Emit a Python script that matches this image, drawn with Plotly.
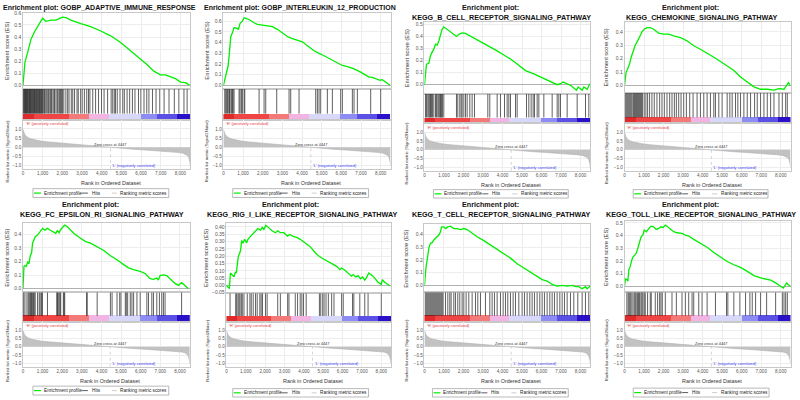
import plotly.graph_objects as go

# ---------------- data ----------------
N_RANKS = 8500
ZERO_CROSS = 4447
rank_ticks = [0, 1000, 2000, 3000, 4000, 5000, 6000, 7000, 8000]

gene_sets = [
    "GOBP_ADAPTIVE_IMMUNE_RESPONSE",
    "GOBP_INTERLEUKIN_12_PRODUCTION",
    "KEGG_B_CELL_RECEPTOR_SIGNALING_PATHWAY",
    "KEGG_CHEMOKINE_SIGNALING_PATHWAY",
    "KEGG_FC_EPSILON_RI_SIGNALING_PATHWAY",
    "KEGG_RIG_I_LIKE_RECEPTOR_SIGNALING_PATHWAY",
    "KEGG_T_CELL_RECEPTOR_SIGNALING_PATHWAY",
    "KEGG_TOLL_LIKE_RECEPTOR_SIGNALING_PATHWAY",
]

metric_rank = [0, 30, 80, 150, 250, 400, 600, 900, 1300, 1800, 2400, 3000, 3600, 4100, 4447,
               5000, 5600, 6200, 6800, 7300, 7800, 8100, 8250, 8350, 8420, 8460, 8490, 8500]
metric_val = [0.97, 0.85, 0.72, 0.62, 0.53, 0.46, 0.40, 0.34, 0.29, 0.24, 0.19, 0.14, 0.09, 0.04, 0.0,
              -0.06, -0.11, -0.15, -0.19, -0.23, -0.28, -0.32, -0.37, -0.44, -0.55, -0.68, -0.85, -1.02]

cb_edges = [0, 574, 2346, 3359, 4372, 5975, 6820, 7832, 8500]

es_rank_1 = [0, 100, 236, 405, 574, 743, 911, 996, 1165, 1418, 1671, 1840, 2008, 2177, 2430, 2937, 3443,
             3949, 4456, 4962, 5468, 5975, 6312, 6650, 6987, 7240, 7494, 7747, 8000, 8253, 8473]
es_val_1 = [0.0, 0.19, 0.27, 0.38, 0.44, 0.49, 0.53, 0.555, 0.53, 0.54, 0.54, 0.555, 0.565, 0.56, 0.54, 0.51,
            0.486, 0.45, 0.41, 0.355, 0.287, 0.213, 0.17, 0.117, 0.087, 0.087, 0.074, 0.055, 0.027, 0.022, 0.0]
hits_1 = [12, 45, 70, 98, 130, 152, 180, 214, 240, 262, 295, 330, 352, 384, 410, 445, 470, 503, 530, 566,
          590, 622, 655, 680, 712, 748, 775, 806, 840, 872, 905, 930, 962, 990, 1035, 1090, 1125, 1180,
          1232, 1290, 1335, 1402, 1450, 1520, 1575, 1610, 1680, 1745, 1790, 1860, 1905, 1960, 2010, 2075,
          2180, 2270, 2340, 2455, 2530, 2620, 2745, 2810, 2930, 3010, 3120, 3240, 3330, 3400, 3545, 3690,
          3840, 3990, 4120, 4300, 4480, 4560, 4640, 4700, 4790, 4930, 5070, 5150, 5290, 5420, 5560, 5690,
          5870, 5990, 6150, 6290, 6400, 6580, 6760, 6950, 7170, 7420, 7690, 7920, 8180, 8340]

es_rank_2 = [0, 68, 169, 237, 288, 339, 373, 457, 542, 712, 763, 847, 966, 1051, 1305, 1559, 1729, 1983,
             2237, 2492, 2746, 3000, 3288, 3508, 3763, 4017, 4271, 4610, 4949, 5288, 5627, 5797, 6051,
             6305, 6644, 6983, 7237, 7406, 7542, 7746, 7966, 8085, 8254, 8474]
es_val_2 = [0.0, 0.06, 0.15, 0.18, 0.27, 0.35, 0.455, 0.49, 0.54, 0.53, 0.52, 0.58, 0.60, 0.63, 0.615, 0.585,
            0.57, 0.563, 0.554, 0.548, 0.523, 0.486, 0.452, 0.437, 0.425, 0.406, 0.369, 0.323, 0.292, 0.26,
            0.22, 0.206, 0.185, 0.175, 0.154, 0.123, 0.098, 0.077, 0.077, 0.062, 0.046, 0.052, 0.03, 0.0]
hits_2 = [68, 119, 169, 203, 271, 305, 339, 407, 458, 492, 542, 797, 847, 915, 966, 1051, 1085, 1814, 2068,
          2153, 2712, 3339, 3424, 3847, 4695, 4780, 4864, 4949, 5288, 5542, 5966, 6051, 6559, 6644, 6814,
          7492, 8000]

es_rank_3 = [0, 51, 103, 222, 308, 393, 479, 564, 650, 735, 821, 906, 991, 1162, 1419, 1641, 1761, 1932,
             2103, 2359, 2701, 3043, 3385, 3726, 4068, 4410, 4752, 5179, 5607, 5949, 6291, 6632, 6803,
             6974, 7111, 7316, 7487, 7658, 7795, 7880, 8085, 8171, 8342, 8479]
es_val_3 = [0.0, 0.13, 0.17, 0.178, 0.24, 0.27, 0.295, 0.336, 0.328, 0.363, 0.418, 0.459, 0.48, 0.459, 0.43,
            0.40, 0.418, 0.43, 0.426, 0.404, 0.37, 0.344, 0.314, 0.28, 0.246, 0.213, 0.172, 0.117, 0.09,
            0.063, 0.036, 0.016, 0.0, 0.008, 0.022, 0.008, -0.005, -0.027, -0.046, -0.019, -0.046, -0.019,
            -0.038, 0.008]
hits_3 = [51, 103, 171, 222, 274, 308, 359, 410, 479, 564, 615, 684, 735, 786, 821, 872, 923, 991, 1641,
          1709, 1812, 1880, 1932, 2017, 2103, 2188, 2325, 2444, 2564, 3248, 3350, 3726, 3897, 4103, 4239,
          4325, 4410, 4667, 4752, 5231, 5350, 5470, 5573, 5641, 5778, 5863, 6120, 6547, 6803, 6889, 6974,
          7316, 7829, 8256, 8427]

es_rank_4 = [0, 86, 154, 257, 342, 428, 548, 668, 770, 839, 890, 1010, 1147, 1318, 1490, 1747, 2003, 2260,
             2517, 2860, 3202, 3545, 3887, 4229, 4572, 4914, 5257, 5599, 5942, 6284, 6627, 6969, 7312,
             7654, 7911, 8168, 8339, 8390, 8500]
es_val_4 = [0.0, 0.1, 0.12, 0.16, 0.21, 0.25, 0.30, 0.333, 0.358, 0.383, 0.40, 0.42, 0.432, 0.432, 0.42,
            0.39, 0.383, 0.383, 0.37, 0.358, 0.333, 0.296, 0.27, 0.242, 0.21, 0.178, 0.143, 0.111, 0.062,
            0.025, -0.012, -0.03, -0.03, -0.037, -0.025, -0.03, 0.012, 0.02, -0.005]
hits_4 = [34, 86, 137, 188, 240, 291, 342, 394, 462, 514, 565, 616, 668, 719, 771, 822, 873, 925, 1010,
          1096, 1182, 1284, 1404, 1524, 1661, 1798, 1918, 2038, 2175, 2312, 2432, 2552, 2654, 2774, 2894,
          3031, 3168, 3339, 3510, 3716, 3887, 4058, 4229, 4400, 4572, 4657, 4828, 4999, 5256, 5393, 5513,
          5684, 5804, 5941, 6112, 6283, 6454, 6660, 6797, 6968, 7139, 7310, 7481, 7652, 7909, 8080, 8251,
          8336]

es_rank_5 = [0, 51, 101, 169, 236, 304, 371, 439, 489, 540, 624, 743, 827, 911, 996, 1114, 1249, 1333,
             1502, 1671, 1755, 1840, 1924, 2059, 2127, 2262, 2599, 2937, 3190, 3443, 3781, 4118, 4456,
             4793, 5131, 5384, 5637, 5975, 6228, 6481, 6650, 6819, 6903, 6987, 7156, 7325, 7494, 7747,
             7916, 8084, 8253, 8422]
es_val_5 = [0.0, 0.165, 0.17, 0.165, 0.194, 0.184, 0.242, 0.262, 0.335, 0.359, 0.383, 0.395, 0.412, 0.431,
            0.444, 0.431, 0.444, 0.436, 0.42, 0.407, 0.427, 0.412, 0.436, 0.456, 0.468, 0.456, 0.407, 0.371,
            0.347, 0.335, 0.31, 0.281, 0.242, 0.213, 0.177, 0.153, 0.14, 0.128, 0.112, 0.073, 0.068, 0.078,
            0.063, 0.097, 0.102, 0.097, 0.073, 0.039, 0.024, 0.044, 0.024, 0.0]
hits_5 = [34, 101, 203, 270, 321, 371, 405, 439, 489, 540, 574, 624, 743, 827, 878, 945, 996, 1249, 1722,
          1755, 1789, 1840, 1890, 1924, 2059, 2093, 2127, 3241, 3275, 3781, 4456, 4541, 4794, 4929, 4996,
          5216, 5266, 5334, 5469, 5553, 5638, 5807, 5975, 6313, 6398, 6566, 6651, 6819, 6954, 7072, 7157,
          7241, 8085]

es_rank_6 = [0, 85, 154, 205, 308, 393, 462, 513, 564, 615, 684, 735, 786, 855, 940, 1043, 1111, 1214,
             1299, 1419, 1504, 1624, 1761, 1846, 1932, 2034, 2137, 2359, 2530, 2650, 2786, 2957, 3162,
             3265, 3470, 3641, 3812, 4068, 4325, 4581, 4752, 4923, 5179, 5436, 5692, 5863, 5949, 6120,
             6291, 6462, 6547, 6684, 6803, 6923, 7026, 7145, 7231, 7350, 7573, 7829, 8000, 8051, 8171, 8427]
es_val_6 = [0.0, -0.009, -0.022, 0.085, 0.067, 0.058, 0.09, 0.085, 0.142, 0.198, 0.22, 0.243, 0.306, 0.288,
            0.315, 0.292, 0.315, 0.333, 0.344, 0.36, 0.373, 0.389, 0.378, 0.396, 0.382, 0.411, 0.40, 0.373,
            0.36, 0.373, 0.36, 0.36, 0.337, 0.348, 0.333, 0.328, 0.315, 0.292, 0.265, 0.225, 0.202, 0.187,
            0.169, 0.148, 0.13, 0.108, 0.119, 0.103, 0.085, 0.063, 0.074, 0.058, 0.067, 0.045, 0.058, 0.036,
            0.052, 0.085, 0.063, 0.022, 0.007, 0.04, 0.022, 0.0]
hits_6 = [188, 479, 530, 598, 650, 701, 769, 820, 906, 1077, 1213, 1282, 1384, 1504, 1589, 1726, 1794, 1863,
          2017, 2102, 2649, 2786, 3162, 3230, 3555, 3674, 3811, 3897, 3982, 4119, 4802, 4871, 4973, 5042,
          5144, 5264, 5435, 5555, 5948, 6033, 6512, 6580, 6888, 7144, 7315, 7998]

es_rank_7 = [0, 34, 85, 137, 188, 239, 308, 393, 479, 564, 650, 735, 821, 872, 991, 1077, 1197, 1333, 1504,
             1675, 1846, 2017, 2188, 2444, 2701, 3043, 3385, 3726, 4068, 4410, 4752, 5094, 5436, 5778,
             6034, 6291, 6547, 6803, 7060, 7316, 7573, 7744, 7915, 8085, 8256, 8342, 8500]
es_val_7 = [0.0, 0.098, 0.15, 0.2, 0.253, 0.304, 0.33, 0.335, 0.356, 0.369, 0.382, 0.395, 0.42, 0.459, 0.459,
            0.446, 0.459, 0.464, 0.446, 0.446, 0.438, 0.446, 0.438, 0.408, 0.382, 0.351, 0.317, 0.284, 0.253,
            0.214, 0.17, 0.137, 0.103, 0.072, 0.046, 0.034, 0.008, -0.005, 0.0, -0.005, 0.0, -0.01, -0.01,
            -0.026, -0.01, -0.026, -0.005]
hits_7 = [34, 85, 137, 188, 239, 291, 342, 393, 444, 496, 547, 598, 649, 701, 752, 803, 855, 906, 957, 1077,
          1196, 1299, 1367, 1504, 1589, 1709, 1812, 1931, 2017, 2136, 2273, 2444, 2615, 2734, 2871, 3127,
          3350, 3469, 3589, 3726, 3897, 4033, 4153, 4273, 4409, 4546, 4666, 4837, 5007, 5127, 5264, 5400,
          5520, 5640, 5776, 5913, 6033, 6152, 6289, 6426, 6546, 6665, 6802, 6939, 7058, 7178, 7315, 7486,
          7656, 7861, 8084, 8254, 8425]

es_rank_8 = [0, 51, 120, 171, 223, 291, 377, 428, 497, 599, 668, 771, 839, 942, 1010, 1113, 1233, 1353, 1490,
             1627, 1747, 1866, 1969, 2089, 2175, 2346, 2517, 2688, 2945, 3116, 3288, 3545, 3887, 4229, 4572,
             4914, 5257, 5599, 5942, 6284, 6627, 6969, 7226, 7483, 7740, 7997, 8134, 8219, 8305, 8373, 8500]
es_val_8 = [0.0, 0.057, 0.052, 0.039, 0.13, 0.156, 0.208, 0.23, 0.24, 0.26, 0.292, 0.339, 0.385, 0.404, 0.443,
            0.43, 0.448, 0.474, 0.469, 0.448, 0.456, 0.469, 0.464, 0.482, 0.474, 0.448, 0.43, 0.422, 0.417,
            0.404, 0.396, 0.37, 0.339, 0.307, 0.266, 0.229, 0.195, 0.169, 0.148, 0.117, 0.083, 0.065, 0.057,
            0.047, 0.026, -0.005, -0.016, 0.005, 0.026, 0.013, 0.0]
hits_8 = [120, 188, 240, 291, 342, 428, 496, 548, 599, 668, 719, 770, 839, 890, 942, 1010, 1061, 1181, 1318,
          1370, 1575, 1695, 1798, 1866, 1935, 2089, 2431, 2654, 2945, 3116, 3287, 3458, 3544, 3801, 3972,
          4229, 4657, 5222, 5290, 5598, 5906, 6197, 6420, 6540, 6711, 6968, 7276, 7738, 8081, 8166, 8252,
          8337]

es_ranks = [es_rank_1, es_rank_2, es_rank_3, es_rank_4, es_rank_5, es_rank_6, es_rank_7, es_rank_8]
es_vals = [es_val_1, es_val_2, es_val_3, es_val_4, es_val_5, es_val_6, es_val_7, es_val_8]
hits = [hits_1, hits_2, hits_3, hits_4, hits_5, hits_6, hits_7, hits_8]

# ---------------- styles / layout geometry (pixels) ----------------
W, H = 800, 400
FONT = "Liberation Sans, Arial, sans-serif"
CB_COLORS = ["#e02a2a", "#f04545", "#f47a7a", "#f2b4e2", "#d8d8fa", "#8c8cf4", "#5a50e6", "#2a10c8"]
CB_TOP = 0.2

# ox, oy, L, R, es_t, es_b, cb_b, mt_b, es_range, dtick, fmt
GEOM = [
    (0, 0, 22.0, 189.5, 10, 87, 118.3, 168.3, [-0.03, 0.60], 0.1, ".1f"),
    (200, 0, 222.7, 390.0, 10, 87, 118.3, 168.3, [-0.034, 0.677], 0.1, ".1f"),
    (400, 0, 424.0, 590.0, 19, 92, 122.0, 170.0, [-0.076, 0.522], 0.1, ".1f"),
    (600, 0, 624.3, 790.5, 19, 91, 122.0, 170.0, [-0.057, 0.476], 0.1, ".1f"),
    (0, 200, 22.0, 189.0, 223, 293, 322.7, 368.3, [-0.027, 0.482], 0.1, ".1f"),
    (200, 200, 225.7, 390.5, 223, 294, 322.7, 368.3, [-0.054, 0.425], 0.05, ".2f"),
    (400, 200, 424.0, 590.0, 224, 293, 322.7, 368.3, [-0.054, 0.48], 0.1, ".1f"),
    (600, 200, 624.3, 790.5, 221, 293, 322.7, 368.3, [-0.049, 0.513], 0.1, ".1f"),
]
LEGEND_BOX = [(32, 188, 168, 197), (232, 188, 368, 197), (433, 189, 568, 197.5), (633, 189, 768, 197.5),
              (32, 388, 168, 397), (232, 390.5, 368, 399), (432, 390.5, 568, 399), (633, 390, 769, 399)]


def px_x(p):
    return p / W


def px_y(p):
    return 1 - p / H


def nm(k):
    return "" if k == 1 else str(k)


fig = go.Figure()
layout = dict(width=W, height=H, margin=dict(l=0, r=0, t=0, b=0), paper_bgcolor="white",
              plot_bgcolor="white", showlegend=False, font=dict(family=FONT, size=5, color="#333"),
              bargap=0)
annotations = []
shapes = []

cb_centers = [(cb_edges[k] + cb_edges[k + 1]) / 2 for k in range(len(cb_edges) - 1)]
cb_widths = [cb_edges[k + 1] - cb_edges[k] for k in range(len(cb_edges) - 1)]

for i in range(8):
    ox, oy, L, R, es_t, es_b, cb_b, mt_b, es_range, dt, fmt = GEOM[i]
    a1, a2, a3 = 3 * i + 1, 3 * i + 2, 3 * i + 3
    xd = [px_x(L), px_x(R)]

    # ES curve
    fig.add_trace(go.Scatter(x=es_ranks[i], y=es_vals[i], mode="lines",
                             line=dict(color="#00ee00", width=1.3), xaxis="x" + nm(a1), yaxis="y" + nm(a1),
                             hoverinfo="skip"))
    # hits
    hx, hy = [], []
    for h in hits[i]:
        hx += [h, h, None]
        hy += [CB_TOP, 1, None]
    fig.add_trace(go.Scatter(x=hx, y=hy, mode="lines", line=dict(color="#1c1c1c", width=0.7),
                             xaxis="x" + nm(a2), yaxis="y" + nm(a2), hoverinfo="skip"))
    # colour bar
    fig.add_trace(go.Bar(x=cb_centers, y=[CB_TOP] * len(cb_centers), width=cb_widths,
                         marker=dict(color=CB_COLORS, line=dict(width=0)),
                         xaxis="x" + nm(a2), yaxis="y" + nm(a2), hoverinfo="skip"))
    # ranked metric
    fig.add_trace(go.Scatter(x=metric_rank, y=metric_val, mode="lines", fill="tozeroy",
                             fillcolor="#c2c2c2", line=dict(color="#b0b0b0", width=0.6),
                             xaxis="x" + nm(a3), yaxis="y" + nm(a3), hoverinfo="skip"))
    fig.add_trace(go.Scatter(x=[ZERO_CROSS, ZERO_CROSS], y=[-1.2, 0], mode="lines",
                             line=dict(color="#b8b8b8", width=0.6, dash="dot"),
                             xaxis="x" + nm(a3), yaxis="y" + nm(a3), hoverinfo="skip"))

    common_x = dict(domain=xd, range=[0, N_RANKS], tickvals=rank_ticks, zeroline=False, ticks="",
                    showline=True, linecolor="#c8c8c8", linewidth=0.5, mirror=True, fixedrange=True)
    layout["xaxis" + nm(a1)] = dict(common_x, anchor="y" + nm(a1), showticklabels=False,
                                    showgrid=True, gridcolor="#ededed", gridwidth=0.5)
    layout["yaxis" + nm(a1)] = dict(domain=[px_y(es_b), px_y(es_t)], range=es_range, anchor="x" + nm(a1),
                                    dtick=dt, tick0=0, tickformat=fmt, ticks="",
                                    tickfont=dict(size=5, color="#555"), showgrid=True, gridcolor="#ededed",
                                    gridwidth=0.5, zeroline=True, zerolinecolor="#b0b0b0", zerolinewidth=0.7,
                                    showline=True, linecolor="#c8c8c8", linewidth=0.5, mirror=True)
    layout["xaxis" + nm(a2)] = dict(common_x, anchor="y" + nm(a2), showticklabels=False, showgrid=False)
    layout["yaxis" + nm(a2)] = dict(domain=[px_y(cb_b), px_y(es_b)], range=[0, 1], anchor="x" + nm(a2),
                                    showticklabels=False, showgrid=False, zeroline=False, ticks="",
                                    showline=True, linecolor="#c8c8c8", linewidth=0.5, mirror=True)
    layout["xaxis" + nm(a3)] = dict(common_x, anchor="y" + nm(a3), showticklabels=True, tickformat=",d",
                                    tickfont=dict(size=4.6, color="#555"), showgrid=True, gridcolor="#ededed",
                                    gridwidth=0.5)
    layout["yaxis" + nm(a3)] = dict(domain=[px_y(mt_b), px_y(cb_b)], range=[-1.2, 1.5], anchor="x" + nm(a3),
                                    tickvals=[-1, -0.5, 0, 0.5, 1], tickformat=".1f", ticks="",
                                    tickfont=dict(size=4.6, color="#555"), showgrid=True, gridcolor="#ededed",
                                    gridwidth=0.5, zeroline=False,
                                    showline=True, linecolor="#c8c8c8", linewidth=0.5, mirror=True)

    # titles
    name = gene_sets[i]
    tfont = dict(family=FONT, size=7.2, color="#111")
    if i < 2:
        annotations.append(dict(text="<b>Enrichment plot: " + name + "</b>", x=px_x(ox + 99), y=px_y(oy + 4.6),
                                xref="paper", yref="paper", showarrow=False, xanchor="center",
                                yanchor="middle", font=dict(tfont, size=7.0)))
    else:
        annotations.append(dict(text="<b>Enrichment plot:</b>", x=px_x(ox + 90), y=px_y(oy + 4.5),
                                xref="paper", yref="paper", showarrow=False, xanchor="center",
                                yanchor="middle", font=tfont))
        annotations.append(dict(text="<b>" + name + "</b>", x=px_x(ox + 101), y=px_y(oy + 14.6),
                                xref="paper", yref="paper", showarrow=False, xanchor="center",
                                yanchor="middle", font=tfont))
    # axis titles
    annotations.append(dict(text="Enrichment score (ES)", x=px_x(ox + 6), y=px_y((es_t + es_b) / 2),
                            xref="paper", yref="paper", showarrow=False, textangle=-90,
                            font=dict(size=5.8, color="#333"), xanchor="center", yanchor="middle"))
    annotations.append(dict(text="Ranked list metric (Signal2Noise)", x=px_x(ox + 6),
                            y=px_y((cb_b + mt_b) / 2 + 6), xref="paper", yref="paper", showarrow=False,
                            textangle=-90, font=dict(size=4.2, color="#333"), xanchor="center",
                            yanchor="middle"))
    annotations.append(dict(text="Rank in Ordered Dataset", x=px_x((L + R) / 2 + 4), y=px_y(mt_b + 14),
                            xref="paper", yref="paper", showarrow=False, font=dict(size=5.4, color="#333"),
                            xanchor="center", yanchor="middle"))
    # metric annotations
    annotations.append(dict(text="'H' (positively correlated)", x=40, y=1.29, xref="x" + nm(a3),
                            yref="y" + nm(a3), showarrow=False, xanchor="left", yanchor="middle",
                            font=dict(size=3.9, color="#e83a3a")))
    annotations.append(dict(text="Zero cross at " + str(ZERO_CROSS), x=ZERO_CROSS, y=0.17, xref="x" + nm(a3),
                            yref="y" + nm(a3), showarrow=False, xanchor="center", yanchor="middle",
                            font=dict(size=3.9, color="#333")))
    annotations.append(dict(text="'L' (negatively correlated)", x=ZERO_CROSS, y=-1.0, xref="x" + nm(a3),
                            yref="y" + nm(a3), showarrow=False, xanchor="left", yanchor="middle",
                            font=dict(size=3.9, color="#3a3aee")))
    # legend
    bx0, by0, bx1, by1 = LEGEND_BOX[i]
    ym = (by0 + by1) / 2
    shapes.append(dict(type="rect", xref="paper", yref="paper", x0=px_x(bx0), x1=px_x(bx1),
                       y0=px_y(by1), y1=px_y(by0), line=dict(color="#8a8a8a", width=0.6)))
    items = [("Enrichment profile", "#00ee00", 1.2, 1, 8, 9),
             ("Hits", "#333333", 0.8, 49, 55, 57),
             ("Ranking metric scores", "#c0c0c0", 0.8, 79, 84, 85.5)]
    for label, col, lw, s0, s1, t0 in items:
        shapes.append(dict(type="line", xref="paper", yref="paper", x0=px_x(bx0 + s0), x1=px_x(bx0 + s1),
                           y0=px_y(ym), y1=px_y(ym), line=dict(color=col, width=lw)))
        annotations.append(dict(text=label, x=px_x(bx0 + t0), y=px_y(ym), xref="paper", yref="paper",
                                showarrow=False, xanchor="left", yanchor="middle",
                                font=dict(size=4.7, color="#222")))

layout["annotations"] = annotations
layout["shapes"] = shapes
fig.update_layout(**layout)
fig.write_html("out.html", config={"displayModeBar": False},
               post_script="document.body.style.margin='0px';")
